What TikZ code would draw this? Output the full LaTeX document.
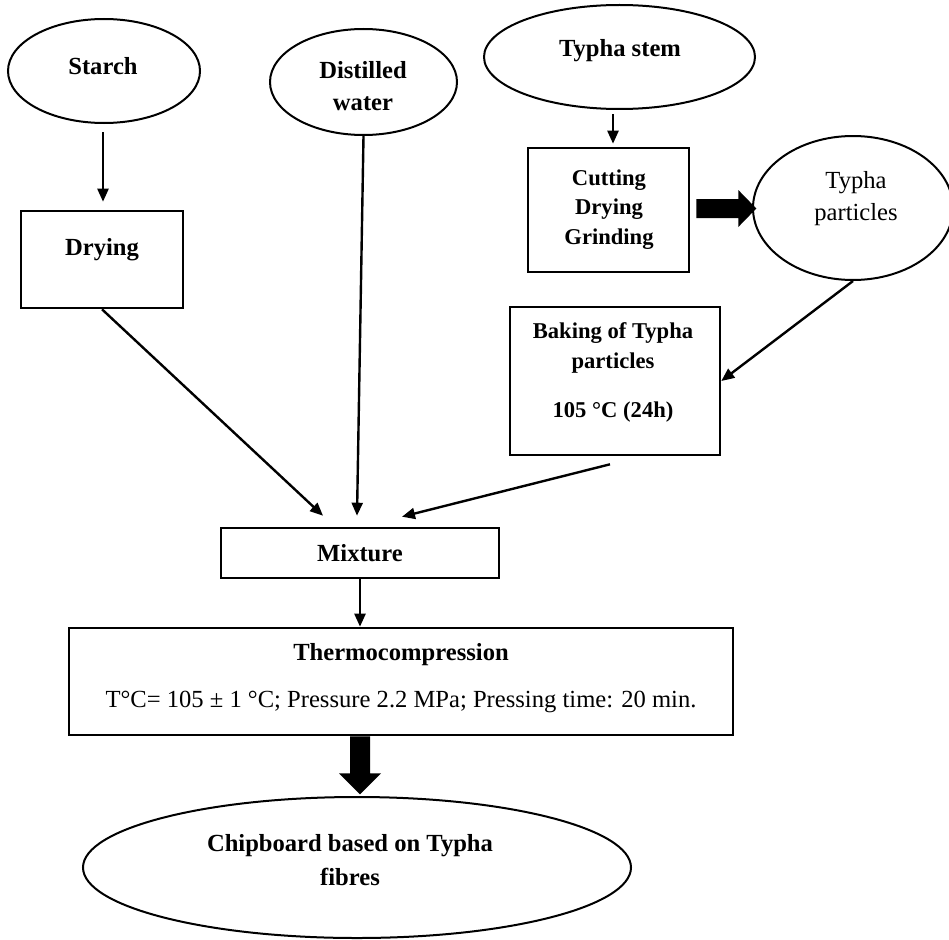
\documentclass[tikz,border=0pt]{standalone}
\usepackage{fontspec}
\setmainfont{Liberation Serif}
\usetikzlibrary{shapes.geometric,arrows.meta,calc}
\begin{document}
\begin{tikzpicture}[x=1pt,y=-1pt,
  oval/.style={draw, ellipse, line width=2pt, inner sep=0pt},
  box/.style={draw, rectangle, line width=2.6pt, inner sep=0pt},
  lbl/.style={align=center, font=\bfseries\fontsize{24.6}{32}\selectfont},
  lblsm/.style={align=center, font=\bfseries\fontsize{22.6}{29.5}\selectfont},
  arr/.style={line width=2.4pt, -{Triangle[length=13pt,width=11pt]}},
  block/.style={fill=black}]
\useasboundingbox (0,0) rectangle (949,939);
\fill[white] (0,0) rectangle (949,939);

% shapes
\node[oval, minimum width=192pt, minimum height=104pt] (starch) at (104,71) {};
\node[oval, minimum width=187pt, minimum height=106pt] (distilled) at (363.5,82) {};
\node[oval, minimum width=271pt, minimum height=104pt] (stem) at (619.5,57) {};
\node[oval, minimum width=200pt, minimum height=144pt] (particles) at (853,208) {};
\node[oval, minimum width=548pt, minimum height=141pt] (chip) at (357,867.5) {};

\node[box, minimum width=162pt, minimum height=97pt] (drying) at (102,259.5) {};
\node[box, minimum width=161pt, minimum height=124pt] (cutting) at (608.5,210) {};
\node[box, minimum width=210pt, minimum height=148pt] (baking) at (615,381) {};
\node[box, minimum width=278pt, minimum height=50pt] (mixture) at (360,553) {};
\node[box, minimum width=664pt, minimum height=107pt] (thermo) at (401,681.5) {};

% texts
\node[lbl] (starch-t) at (103,66) {Starch};
\node[lbl] (distilled-t) at (363,86) {Distilled\\water};
\node[lbl] (stem-t) at (620,51) {Typha stem};
\node[align=center, font=\fontsize{24.6}{32}\selectfont] (particles-t) at (856,199) {Typha\\particles};
\node[lbl] (drying-t) at (102,250) {Drying};
\node[lblsm] (cutting-t) at (609,209.5) {Cutting\\Drying\\Grinding};
\node[lblsm, font=\bfseries\fontsize{22.6}{30}\selectfont] (baking-t) at (613,372.5) {Baking of Typha\\particles\\[19pt]105 °C (24h)};
\node[lbl] (mixture-t) at (360,553) {Mixture};
\node[lbl] (thermo-t) at (401,678.5) {Thermocompression\\[15pt]{\mdseries T°C= 105 ± 1 °C; Pressure 2.2 MPa; Pressing time: 20 min.}};
\node[lbl, font=\bfseries\fontsize{24.6}{34}\selectfont] (chip-t) at (350,860) {Chipboard based on Typha\\fibres};

% connectors
\draw[arr] ($(starch.south)+(-1,8)$) -- ($(drying.north)+(1,-8)$);
\draw[arr] (distilled.south) -- ($(mixture.north)+(-3,-11)$);
\draw[arr] (drying.south) -- ($(mixture.north)+(-37,-11)$);
\draw[arr] ($(baking.south)+(-5,8)$) -- ($(mixture.north)+(42,-10)$);
\draw[arr] ($(stem.south)+(-6.5,4)$) -- ($(cutting.north)+(4.5,-3)$);
\draw[arr] (particles.south) -- (baking.east);
\draw[arr] (mixture.south) -- (mixture.south |- thermo.north);

% block arrows
\fill[block] ($(cutting.east)+(6,-11)$) -- ++(42,0) -- ++(0,-9) -- ++(18,18.5) -- ++(-18,18.5) -- ++(0,-9) -- ++(-42,0) -- cycle;
\fill[block] ($(mixture.south |- thermo.south)+(-10,0)$) -- ++(20,0) -- ++(0,37) -- ++(11,0) -- ++(-21,21) -- ++(-21,-21) -- ++(11,0) -- cycle;
\end{tikzpicture}
\end{document}
